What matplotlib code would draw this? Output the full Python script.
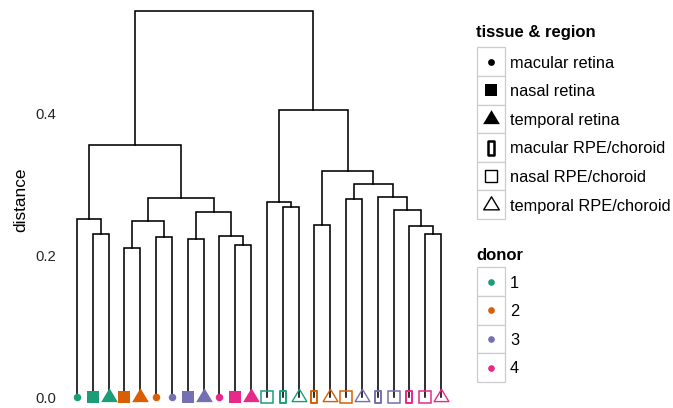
import matplotlib
matplotlib.use('Agg')
import matplotlib.pyplot as plt
from matplotlib.path import Path
from matplotlib.patches import Rectangle

plt.rcParams['font.family'] = ['Liberation Sans', 'DejaVu Sans']

# legend entries
donors = ['1', '2', '3', '4']
donor_colors = ['#1B9E77', '#D95F02', '#7570B3', '#E7298A']
tissues = ['macular retina', 'nasal retina', 'temporal retina',
           'macular RPE/choroid', 'nasal RPE/choroid', 'temporal RPE/choroid']

# leaves, left to right
leaf_donor = ['1', '1', '1', '2', '2', '2', '3', '3', '3', '4', '4', '4',
              '1', '1', '1', '2', '2', '2', '3', '3', '3', '4', '4', '4']
leaf_tissue = ['macular retina', 'nasal retina', 'temporal retina',
               'nasal retina', 'temporal retina', 'macular retina',
               'macular retina', 'nasal retina', 'temporal retina',
               'macular retina', 'nasal retina', 'temporal retina',
               'nasal RPE/choroid', 'macular RPE/choroid', 'temporal RPE/choroid',
               'macular RPE/choroid', 'temporal RPE/choroid', 'nasal RPE/choroid',
               'temporal RPE/choroid', 'macular RPE/choroid', 'nasal RPE/choroid',
               'macular RPE/choroid', 'nasal RPE/choroid', 'temporal RPE/choroid']

# merges (scipy-like: index >= 24 refers to earlier merge)
merge_left = [1, 0, 3, 5, 26, 7, 10, 9, 29, 28, 25,
              13, 12, 15, 17, 22, 21, 20, 19, 38, 37, 36, 34]
merge_right = [2, 24, 4, 6, 27, 8, 11, 30, 31, 32, 33,
               14, 35, 16, 18, 23, 39, 40, 41, 42, 43, 44, 45]
merge_height = [0.2307, 0.2514, 0.2106, 0.2256, 0.2490, 0.2237, 0.2148, 0.2279,
                0.2613, 0.2810, 0.3552,
                0.2679, 0.2754, 0.2434, 0.2800, 0.2307, 0.2415, 0.2645, 0.2824,
                0.3011, 0.3194, 0.4049, 0.5444]

yticks = [0.0, 0.2, 0.4]
ytick_labels = ['0.0', '0.2', '0.4']

tri = Path([(0, 0.667), (-0.6, -0.333), (0.6, -0.333), (0, 0.667)],
           [Path.MOVETO, Path.LINETO, Path.LINETO, Path.CLOSEPOLY])
slim = Path([(-0.25, -0.5), (0.25, -0.5), (0.25, 0.5), (-0.25, 0.5), (-0.25, -0.5)],
            [Path.MOVETO, Path.LINETO, Path.LINETO, Path.LINETO, Path.CLOSEPOLY])

# marker, size on plot, size in legend, filled, edge width (plot, legend)
shape = {
    'macular retina': ('o', 5.4, 4.9, True, 0, 0),
    'nasal retina': ('s', 9.1, 9.1, True, 0, 0),
    'temporal retina': (tri, 13.4, 13.4, True, 0, 0),
    'macular RPE/choroid': (slim, 9.2, 10.0, False, 1.4, 1.8),
    'nasal RPE/choroid': ('s', 8.4, 8.8, False, 1.1, 1.0),
    'temporal RPE/choroid': (tri, 11.8, 12.5, False, 1.0, 1.0),
}

W, H = 673, 408
fig = plt.figure(figsize=(W / 100, H / 100), dpi=100)
ax = fig.add_axes([60 / W, 0, 400 / W, 1])

n = len(leaf_donor)
xpos = list(range(1, n + 1))
ypos = [0.0] * n
for l, r, h in zip(merge_left, merge_right, merge_height):
    xl, xr = xpos[l], xpos[r]
    ax.plot([xl, xl, xr, xr], [ypos[l], h, h, ypos[r]], color='black', lw=1.15,
            solid_joinstyle='miter', zorder=1)
    xpos.append((xl + xr) / 2)
    ypos.append(h)

for i in range(n):
    m, ms, _, filled, lw, _ = shape[leaf_tissue[i]]
    c = donor_colors[donors.index(leaf_donor[i])]
    ax.plot([xpos[i]], [0], marker=m, markersize=ms, linestyle='none',
            markerfacecolor=c if filled else 'none', markeredgecolor=c,
            markeredgewidth=lw, zorder=3)

ax.set_xlim(-0.074, 25.2)
ax.set_ylim(-0.0148, 0.5599)
ax.set_xticks([])
ax.set_yticks(yticks)
ax.set_yticklabels(ytick_labels)
ax.tick_params(axis='y', length=0, pad=3, labelsize=10.7, labelcolor='#262626')
for s in ax.spines.values():
    s.set_visible(False)
fig.text(21 / W, 1 - 200 / H, 'distance', rotation=90, ha='center', va='center',
         fontsize=12.4, color='black')

# legends drawn in pixel coordinates
lg = fig.add_axes([0, 0, 1, 1], zorder=5)
lg.set_xlim(0, W)
lg.set_ylim(H, 0)
lg.set_axis_off()
lg.patch.set_alpha(0)

kx, kw, kh = 476.5, 28.5, 28.6
lg.text(kx, 37, 'tissue & region', fontsize=12, fontweight='bold', va='baseline')
top = 47.4
for j, t in enumerate(tissues):
    y0 = top + j * kh
    lg.add_patch(Rectangle((kx, y0), kw, kh, facecolor='white', edgecolor='#cccccc', lw=0.9))
    m, _, ms, filled, _, lw = shape[t]
    lg.plot([kx + kw / 2], [y0 + kh / 2], marker=m, markersize=ms, linestyle='none',
            markerfacecolor='black' if filled else 'none', markeredgecolor='black',
            markeredgewidth=lw)
    lg.text(510, y0 + kh / 2 + 5.8, t, fontsize=11.8, va='baseline')

lg.text(kx, 260, 'donor', fontsize=12, fontweight='bold', va='baseline')
top = 267.4
for j, d in enumerate(donors):
    y0 = top + j * kh
    lg.add_patch(Rectangle((kx, y0), kw, kh, facecolor='white', edgecolor='#cccccc', lw=0.9))
    lg.plot([kx + kw / 2], [y0 + kh / 2], marker='o', markersize=4.8, linestyle='none',
            markerfacecolor=donor_colors[j], markeredgewidth=0)
    lg.text(510, y0 + kh / 2 + 5.8, d, fontsize=11.8, va='baseline')

fig.savefig('out.png', dpi=100)
